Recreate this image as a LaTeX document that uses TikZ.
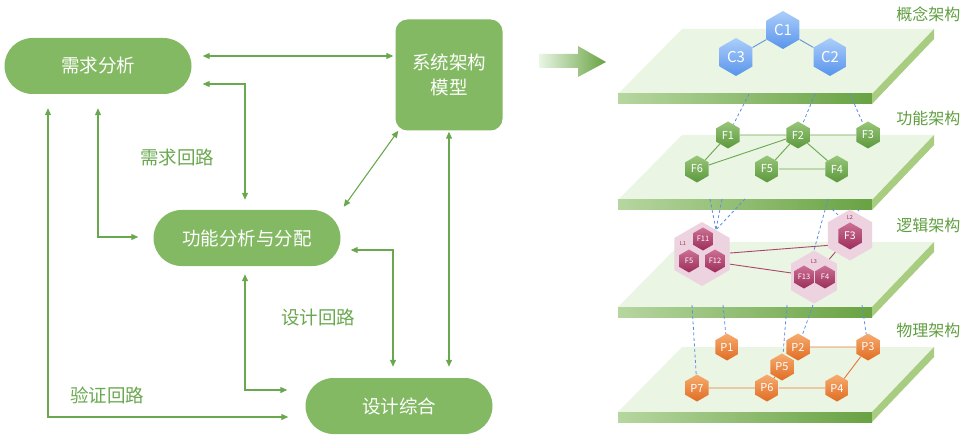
\documentclass[tikz,border=0pt]{standalone}
\usepackage{fontspec}
\setmainfont{Noto Sans CJK SC}
\usetikzlibrary{shapes.geometric,calc,arrows.meta}

\definecolor{boxgreen}{RGB}{130,185,98}
\definecolor{linegreen}{RGB}{106,168,79}
\definecolor{labelgreen}{RGB}{95,158,63}
\definecolor{platetop}{RGB}{234,245,228}
\definecolor{plateside}{RGB}{168,204,128}
\definecolor{stripleft}{RGB}{182,214,160}
\definecolor{stripright}{RGB}{104,162,66}
\definecolor{dashblue}{RGB}{90,143,224}
\definecolor{cblueA}{RGB}{172,206,250}
\definecolor{cblueB}{RGB}{88,148,236}
\definecolor{fgreenA}{RGB}{152,198,122}
\definecolor{fgreenB}{RGB}{92,152,60}
\definecolor{lredA}{RGB}{204,112,148}
\definecolor{lredB}{RGB}{155,45,90}
\definecolor{lpink}{RGB}{237,211,223}
\definecolor{porangeA}{RGB}{246,172,112}
\definecolor{porangeB}{RGB}{224,108,34}
\definecolor{cedge}{RGB}{95,145,215}
\definecolor{ledge}{RGB}{170,70,105}
\definecolor{pedge}{RGB}{230,120,55}

\tikzset{
  stage/.style={rectangle, rounded corners=28pt, minimum width=187pt, minimum height=56pt,
    fill=boxgreen, text=white, font=\fontsize{18.5}{25}\selectfont},
  dbl/.style={{Triangle[length=7pt,width=6pt]}-{Triangle[length=7pt,width=6pt]}, draw=linegreen, line width=1.1pt},
  looplabel/.style={text=linegreen, font=\fontsize{18.5}{20}\selectfont},
  layername/.style={anchor=east, text=labelgreen, font=\fontsize{16}{18}\selectfont},
  hex/.style={regular polygon, regular polygon sides=6, shape border rotate=30, inner sep=0pt, text=white},
  hexc/.style={hex, minimum size=38pt, top color=cblueA, bottom color=cblueB, font=\fontsize{15}{15}\selectfont},
  hexf/.style={hex, minimum size=27pt, top color=fgreenA, bottom color=fgreenB, font=\fontsize{11}{11}\selectfont},
  hexp/.style={hex, minimum size=27pt, top color=porangeA, bottom color=porangeB, font=\fontsize{11}{11}\selectfont},
  hexl/.style={hex, minimum size=23pt, top color=lredA, bottom color=lredB, font=\fontsize{7.5}{8}\selectfont},
  lgroup/.style={hex, fill=lpink},
  tag/.style={text=lredB, font=\fontsize{5.5}{6}\selectfont, inner sep=0pt},
  link/.style={draw=dashblue, dash pattern=on 3pt off 2.5pt, line width=0.8pt},
  edge/.style={line width=0.9pt},
}

\begin{document}
\begin{tikzpicture}[x=1pt,y=-1pt]
\useasboundingbox (0,0) rectangle (968,438);

% left: process loop
\node[stage] (req) at (98,66) {需求分析};
\node[stage, rounded corners=12pt, minimum width=107pt, minimum height=111pt, align=center] (arch) at (449,75) {系统架构\\模型};
\node[stage] (func) at (247,238) {功能分析与分配};
\node[stage] (synth) at (399,406) {设计综合};

\draw[dbl] ($(req.east)+(11,-10)$) -- ($(arch.west)+(-2,-19)$);
\draw[dbl] ($(req.east)+(11,18)$) -| ($(func.north)+(-2,-10)$);
\draw[dbl] ($(func.north east)+(3,-3)$) -- ($(arch.south west)+(3,0)$);
\draw[dbl] ($(arch.south)+(0,1)$) -- ($(arch.south |- synth.north)+(0,-11)$);
\draw[dbl] ($(req.south)+(-50,14)$) |- ($(synth.west)+(-17,11)$);
\draw[dbl] ($(req.south)+(0,14)$) |- ($(func.west)+(-15,-1)$);
\draw[dbl] ($(func.east)+(10,12)$) -| ($(synth.north)+(-6,-11)$);
\draw[dbl] ($(func.south)+(-2,8)$) |- ($(synth.west)+(-18,-16)$);

\node[looplabel] (lreq) at (177,157) {需求回路};
\node[looplabel] (ldes) at (318,317) {设计回路};
\node[looplabel] (lver) at (107,395) {验证回路};

% big arrow
\shade[left color=platetop, right color=stripright] (539,54) -- (578,54) -- (578,46) -- (606,62) -- (578,77) -- (578,68) -- (539,68) -- cycle;

% right: four plates
\foreach \y in {29,135,242,347}{
  \fill[platetop] (682,\y) -- (934,\y) -- (872,\y+65) -- (618,\y+65) -- cycle;
  \shade[left color=stripleft, right color=stripright] (618,\y+65) rectangle (872,\y+75);
  \fill[plateside] (872,\y+65) -- (934,\y) -- (934,\y+10) -- (872,\y+75) -- cycle;
}

\node[layername] (n1) at (964,14) {概念架构};
\node[layername] (n2) at (964,118) {功能架构};
\node[layername] (n3) at (964,225) {逻辑架构};
\node[layername] (n4) at (964,330) {物理架构};

% concept
\node[hexc] (c1) at (783,30) {C1};
\node[hexc] (c3) at (736,57) {C3};
\node[hexc] (c2) at (830,57) {C2};
\draw[edge, cedge] (c1) -- (c3) (c1) -- (c2);

% functional
\node[hexf] (f1) at (728,135) {F1};
\node[hexf] (f2) at (798,135) {F2};
\node[hexf] (f3) at (868,135) {F3};
\node[hexf] (f6) at (697,169) {F6};
\node[hexf] (f5) at (767,169) {F5};
\node[hexf] (f4) at (837,169) {F4};
\draw[edge, linegreen] (f1) -- (f2) (f2) -- (f3) (f1) -- (f6) (f6) -- (f2)
  (f2) -- (f5) (f2) -- (f4) (f5) -- (f4);

\foreach \x/\t [count=\i] in {749/f1, 815/f2, 850/f3}{
  \coordinate (ua\i) at (\x,94);
  \draw[link] (ua\i) -- (\t);
}

% logical
\node[lgroup, minimum size=64pt] (l1) at (702,254) {};
\node[lgroup, minimum size=51pt] (l2) at (850,235) {};
\node[lgroup, minimum size=53pt] (l3) at (814,277) {};
\draw[edge, ledge] (l1.2) -- (l2.205);
\draw[edge, ledge] (l1.-20) -- (l3.170);
\draw[edge, ledge] (l3) -- (l2);
\node[hexl] (f11) at (703,239) {F11};
\node[hexl] (f5b) at (689,261) {F5};
\node[hexl] (f12) at (715,261) {F12};
\node[hexl, minimum size=27pt, font=\fontsize{10.5}{11}\selectfont] (f3b) at (850,236) {F3};
\node[hexl] (f13) at (804,277) {F13};
\node[hexl] (f4b) at (825,277) {F4};
\node[tag] (t1) at (683,243) {L1};
\node[tag] (t2) at (850,217) {L2};
\node[tag] (t3) at (814,262) {L3};

\foreach \x [count=\i] in {710,722,745}{
  \coordinate (ub\i) at (\x,199);
  \draw[link] (ub\i) -- (l1.60);
}
\coordinate (uc1) at (828,199);
\coordinate (uc2) at (832,209);
\coordinate (uc3) at (860,209);
\draw[link] (uc1) -- (l3.90);
\draw[link] (uc2) -- (l2.120);
\draw[link] (uc3) -- (l2.75);

% physical
\foreach \x/\t [count=\i] in {692/p7, 723/p1, 787/p5, 813/p2, 862/p3}{
  \coordinate (ud\i) at (\x,305);
}
\node[hexp] (p1) at (727,347) {P1};
\node[hexp] (p2) at (798,347) {P2};
\node[hexp] (p3) at (868,347) {P3};
\node[hexp] (p5) at (782,367) {P5};
\node[hexp] (p7) at (697,388) {P7};
\node[hexp] (p6) at (767,388) {P6};
\node[hexp] (p4) at (837,388) {P4};
\draw[edge, pedge] (p2) -- (p3) (p3) -- (p4) (p4) -- (p6) (p6) -- (p7) (p6) -- (p5);
\foreach \t [count=\i] in {p7,p1,p5,p2,p3}{
  \draw[link] (ud\i) -- (\t);
}

\end{tikzpicture}
\end{document}
